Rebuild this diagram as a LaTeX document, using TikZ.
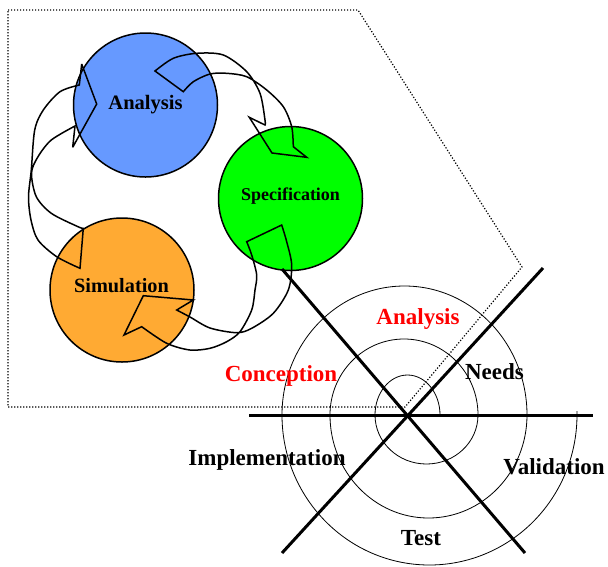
\documentclass[tikz,border=0pt]{standalone}
\usepackage{fontspec}
\setmainfont{Liberation Serif}
\definecolor{cblue}{HTML}{6699FF}
\definecolor{cgreen}{HTML}{00FF00}
\definecolor{corange}{HTML}{FFAA33}
\definecolor{cred}{HTML}{FF0000}
\tikzset{
  phase/.style={circle, draw=black, line width=1.5pt, minimum size=144pt, inner sep=0pt},
  arr/.style={draw=black, line width=1.5pt, line join=miter, miter limit=4},
  axisline/.style={line width=3pt},
  spiral/.style={line width=0.8pt},
  border/.style={line width=1.2pt, dash pattern=on 1.2pt off 1.8pt},
  toplabel/.style={font=\bfseries, anchor=base, inner sep=0pt},
  botlabel/.style={font=\bfseries\fontsize{23}{26}\selectfont, anchor=base, inner sep=0pt}
}
\begin{document}
\begin{tikzpicture}[x=1pt,y=1pt]
\useasboundingbox (0,0) rectangle (608,-566);
% dotted border
\coordinate (b1) at (8,-10);
\coordinate (b2) at (358,-10);
\coordinate (b3) at (522,-267);
\coordinate (b4) at (405,-407);
\coordinate (b5) at (8,-407);
\draw[border] (b1) -- (b2) -- (b3) -- (b4) -- (b5) -- cycle;
% circles
\node[phase, fill=cblue] (ana) at (145.5,-105) {};
\node[phase, fill=cgreen] (spec) at (290.5,-198.5) {};
\node[phase, fill=corange] (sim) at (122,-290) {};
% curved block arrows
\draw[arr] (183.3,-91.7) -- (155,-71) -- plot[smooth] coordinates {(155,-71) (173.3,-58.3) (196.7,-53.3) (223.3,-55) (246.7,-71.7) (260,-93.3) (265,-120) (265,-125)} -- (249.3,-117.3) -- (272,-153) -- (306.7,-157.3) -- (293.3,-146.7) -- plot[smooth] coordinates {(293.3,-146.7) (291.7,-126.7) (283.3,-106.7) (266.7,-90) (246.7,-76.7) (226.7,-73.3) (210,-74) (193.3,-81.7) (183.3,-91.7)} -- cycle;
\draw[arr] (246.7,-241.7) -- (281.7,-225) -- plot[smooth] coordinates {(281.7,-225) (286.7,-241.7) (291.7,-265) (288.3,-290) (273.3,-313.3) (251.7,-328.3) (236.7,-332.7) (210,-328) (190,-317) (176.7,-310)} -- (193.3,-300) -- (143.3,-295.7) -- (124,-335) -- (141.7,-326.7) -- plot[smooth] coordinates {(141.7,-326.7) (166.7,-343.3) (190,-350) (210,-348.3) (226.7,-341.7) (240,-331.7) (251.7,-310) (255,-290) (256.7,-275) (251.7,-255) (246.7,-241.7)} -- cycle;
\draw[arr] (83.3,-228.3) -- (80,-268.3) -- plot[smooth] coordinates {(80,-268.3) (56.7,-256.7) (38,-240) (31,-220) (28.5,-197) (31.3,-170) (34.7,-130) (43.3,-110) (60,-91.7) (79.3,-85)} -- (81.7,-64) -- (96.7,-104) -- (72.7,-147.3) -- (75,-126) -- plot[smooth] coordinates {(75,-126) (51.3,-140) (38,-156.7) (31.5,-173) (36.3,-196.7) (51.3,-213.3) (78,-226.7) (83.3,-228.3)} -- cycle;
% labels in circles
\node[toplabel, font=\bfseries\fontsize{20.5}{24}\selectfont] (lana) at (145.5,-109) {Analysis};
\node[toplabel, font=\bfseries\fontsize{18}{21}\selectfont] (lspec) at (290.5,-200) {Specification};
\node[toplabel, font=\bfseries\fontsize{20.3}{24}\selectfont] (lsim) at (121.5,-292.5) {Simulation};
% spiral
\coordinate (s0) at (440,-415);
\draw[spiral] (s0) arc[start angle=0,end angle=180,x radius=32.5,y radius=40]
  arc[start angle=180,end angle=360,x radius=51.5,y radius=49]
  arc[start angle=0,end angle=180,x radius=74,y radius=76]
  arc[start angle=180,end angle=360,x radius=98.5,y radius=103]
  arc[start angle=0,end angle=180,x radius=122.5,y radius=129]
  arc[start angle=180,end angle=361.5,x radius=147.5,y radius=150];
% axes
\coordinate (h1) at (249,-415);
\coordinate (h2) at (593,-415);
\coordinate (d1a) at (282,-269);
\coordinate (d1b) at (525,-553);
\coordinate (d2a) at (543,-268);
\coordinate (d2b) at (282,-553);
\draw[axisline] (h1) -- (h2);
\draw[axisline] (d1a) -- (d1b);
\draw[axisline] (d2a) -- (d2b);
% sector labels
\node[botlabel, text=cred] (lanab) at (418,-324.5) {Analysis};
\node[botlabel, text=cred] (lconc) at (281,-381.5) {Conception};
\node[botlabel] (lneeds) at (494.5,-379) {Needs};
\node[botlabel] (limpl) at (267,-465) {Implementation};
\node[botlabel] (lval) at (554,-474) {Validation};
\node[botlabel] (ltest) at (421,-545) {Test};
\end{tikzpicture}
\end{document}
